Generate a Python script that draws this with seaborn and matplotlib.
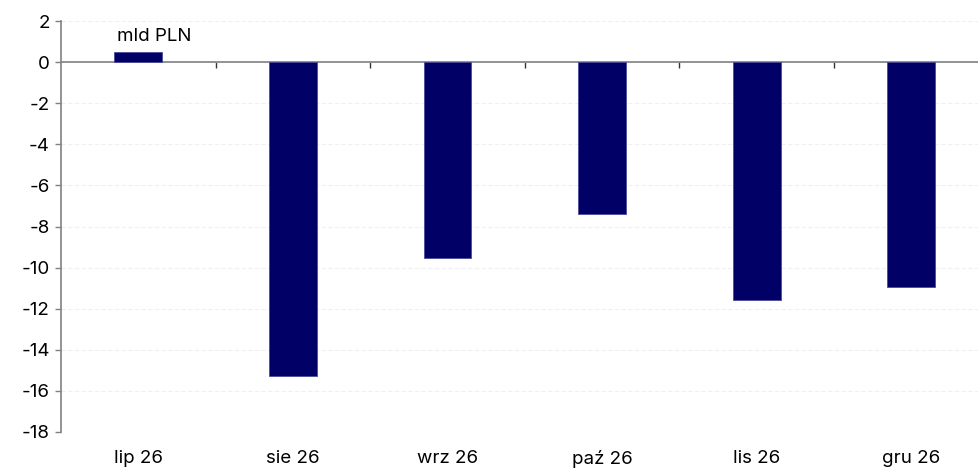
import matplotlib
matplotlib.use('Agg')
import matplotlib.pyplot as plt
import seaborn as sns
import pandas as pd

# dane (mld PLN)
months = ['lip 26', 'sie 26', 'wrz 26', 'paź 26', 'lis 26', 'gru 26']
values = [0.5, -15.3, -9.55, -7.4, -11.6, -10.95]
y_ticks = list(range(-18, 3, 2))
unit_label = 'mld PLN'

sns.set_theme(style='white')
plt.rcParams['font.family'] = ['Inter', 'DejaVu Sans']
plt.rcParams['axes.unicode_minus'] = False

df = pd.DataFrame({'month': months, 'value': values})

fig = plt.figure(figsize=(9.79, 4.69), dpi=100)
ax = fig.add_axes([0.0623, 0.079, 0.9475, 0.876])

sns.barplot(data=df, x='month', y='value', color='#000066', width=0.31,
            saturation=1, edgecolor='#4a4a99', linewidth=0.6, ax=ax, zorder=3)

ax.set_ylim(-18, 2)
ax.set_xlim(-0.5, len(months) - 0.5)
ax.set_yticks(y_ticks)
ax.set_yticklabels([str(t) for t in y_ticks])
ax.set_xlabel('')
ax.set_ylabel('')

# siatka
ax.yaxis.grid(True, color='#f0f0f0', linewidth=0.8, linestyle=(0, (4, 2)))
ax.set_axisbelow(True)

for s in ['top', 'right', 'bottom']:
    ax.spines[s].set_visible(False)
ax.spines['left'].set_color('#808080')
ax.spines['left'].set_linewidth(1.2)

ax.tick_params(axis='y', left=True, length=4, width=1, color='#808080',
               labelsize=13.5, labelcolor='#000000', pad=4)
ax.tick_params(axis='x', bottom=False, labelsize=13.5, labelcolor='#000000', pad=7)

# linia zera z kreskami między kategoriami
ax.axhline(0, color='#808080', linewidth=1.2, zorder=2)
zero_pos = (0 - y_ticks[0]) / (y_ticks[-1] - y_ticks[0])
sec = ax.secondary_xaxis(zero_pos)
sec.set_xticks([i + 0.5 for i in range(len(months) - 1)])
sec.xaxis.set_ticks_position('bottom')
sec.tick_params(axis='x', direction='out', length=4, width=1, color='#333333',
                labelbottom=False, labeltop=False)
for s in sec.spines.values():
    s.set_visible(False)

ax.text(0.060, 0.963, unit_label, transform=ax.transAxes, fontsize=13.5,
        color='#000000', va='center', ha='left')

fig.savefig('out.png', dpi=100)
